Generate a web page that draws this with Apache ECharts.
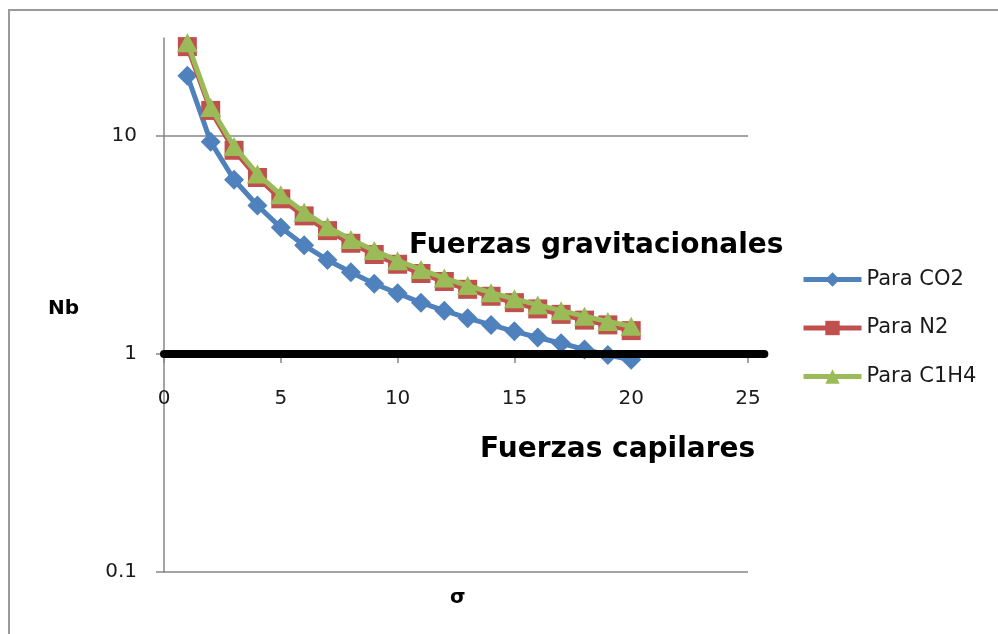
<!DOCTYPE html>
<html>
<head>
<meta charset="utf-8">
<script src="https://cdn.jsdelivr.net/npm/echarts@6/dist/echarts.min.js"></script>
<style>
html,body{margin:0;padding:0;background:#fff;overflow:hidden;}
#chart{width:998px;height:634px;}
</style>
</head>
<body>
<div id="chart"></div>
<script>
const sigma = [1,2,3,4,5,6,7,8,9,10,11,12,13,14,15,16,17,18,19,20];
const nbCO2 = [18.9,9.4,6.3,4.8,3.8,3.15,2.7,2.37,2.1,1.9,1.72,1.58,1.46,1.36,1.27,1.19,1.12,1.05,0.99,0.94];
const nbN2 = [25.7,13.1,8.6,6.45,5.15,4.3,3.68,3.22,2.86,2.58,2.34,2.15,1.98,1.84,1.72,1.61,1.52,1.43,1.36,1.28];
const nbC1H4 = [26.8,13.5,8.95,6.7,5.37,4.47,3.83,3.35,2.98,2.68,2.44,2.23,2.06,1.91,1.79,1.68,1.58,1.49,1.41,1.34];
const refLineX = [0, 25.7];
const refLineY = [1, 1];
const yTickValues = [0.1, 1, 10];
const yTickLabels = ['0.1', '1', '10'];
const seriesNames = ['Para CO2', 'Para N2', 'Para C1H4'];

const pair = (xs, ys) => xs.map((x, i) => [x, ys[i]]);
const chart = echarts.init(document.getElementById('chart'), null, {renderer: 'canvas'});
const grayAxis = '#868686';
const font = 'DejaVu Sans';
const Y_MAX = 28.15;

chart.setOption({
  animation: false,
  backgroundColor: '#fff',
  grid: [
    {left: 164, right: 250, top: 38, bottom: 62, containLabel: false},
    {left: 164, right: 998 - 164 - 26 * 23.36, top: 38, bottom: 62, containLabel: false}
  ],
  xAxis: [{
    gridIndex: 0,
    type: 'value', min: 0, max: 25, interval: 5,
    position: 'bottom', offset: -218,
    axisLine: {show: true, lineStyle: {color: grayAxis, width: 1.5}},
    axisTick: {show: true, length: 9, lineStyle: {color: grayAxis, width: 1.5}},
    axisLabel: {margin: 35, color: '#1a1a1a', fontFamily: font, fontSize: 20},
    splitLine: {show: false}
  }, {
    gridIndex: 1, type: 'value', min: 0, max: 26, show: false
  }],
  yAxis: [{
    gridIndex: 0,
    type: 'log', logBase: 10, min: 0.1, max: Y_MAX,
    axisLine: {show: true, lineStyle: {color: grayAxis, width: 1.5}},
    axisTick: {show: true, length: 8, lineStyle: {color: grayAxis, width: 1.5}},
    axisLabel: {
      margin: 27, color: '#1a1a1a', fontFamily: font, fontSize: 20, showMaxLabel: false,
      formatter: function (v) {
        for (let i = 0; i < yTickValues.length; i++) {
          if (Math.abs(Math.log10(v) - Math.log10(yTickValues[i])) < 1e-6) return yTickLabels[i];
        }
        return '';
      }
    },
    splitLine: {show: true, showMinLine: true, showMaxLine: false, lineStyle: {color: grayAxis, width: 1.5}}
  }, {
    gridIndex: 1, type: 'log', logBase: 10, min: 0.1, max: Y_MAX, show: false
  }],
  legend: {
    orient: 'vertical', left: 796, top: 264,
    itemWidth: 58, itemHeight: 18, itemGap: 27.5, itemTextGap: 5,
    data: seriesNames,
    lineStyle: {width: 5},
    textStyle: {fontFamily: font, fontSize: 21, lineHeight: 20, color: '#1a1a1a'}
  },
  series: [
    {name: seriesNames[0], type: 'line', data: pair(sigma, nbCO2), symbol: 'diamond', symbolSize: [20, 20],
     itemStyle: {color: '#4F81BD'}, lineStyle: {color: '#4F81BD', width: 5}, z: 2},
    {name: seriesNames[1], type: 'line', data: pair(sigma, nbN2), symbol: 'rect', symbolSize: 19,
     itemStyle: {color: '#C0504D'}, lineStyle: {color: '#C0504D', width: 5}, z: 3},
    {name: seriesNames[2], type: 'line', data: pair(sigma, nbC1H4), symbol: 'triangle', symbolSize: [21, 19],
     itemStyle: {color: '#9BBB59'}, lineStyle: {color: '#9BBB59', width: 5}, z: 4},
    {name: 'Nb = 1', type: 'line', xAxisIndex: 1, yAxisIndex: 1, data: pair(refLineX, refLineY), symbol: 'none', clip: false,
     lineStyle: {color: '#000', width: 8, cap: 'round'}, z: 5, silent: true}
  ],
  graphic: [
    {type: 'polyline', shape: {points: [[9, 634], [9, 10], [998, 10]]}, style: {fill: null, stroke: '#9a9a9a', lineWidth: 2}, z: -10},
    {type: 'text', left: 409, top: 232, style: {text: 'Fuerzas gravitacionales', font: 'bold 28px "DejaVu Sans"', fill: '#000'}, z: 10},
    {type: 'text', left: 480, top: 436, style: {text: 'Fuerzas capilares', font: 'bold 28px "DejaVu Sans"', fill: '#000'}, z: 10},
    {type: 'text', left: 48, top: 299, style: {text: 'Nb', font: 'bold 20px "DejaVu Sans"', fill: '#000'}, z: 10},
    {type: 'text', left: 450, top: 588, style: {text: 'σ', font: 'bold 20px "DejaVu Sans"', fill: '#000'}, z: 10}
  ]
});
</script>
</body>
</html>
